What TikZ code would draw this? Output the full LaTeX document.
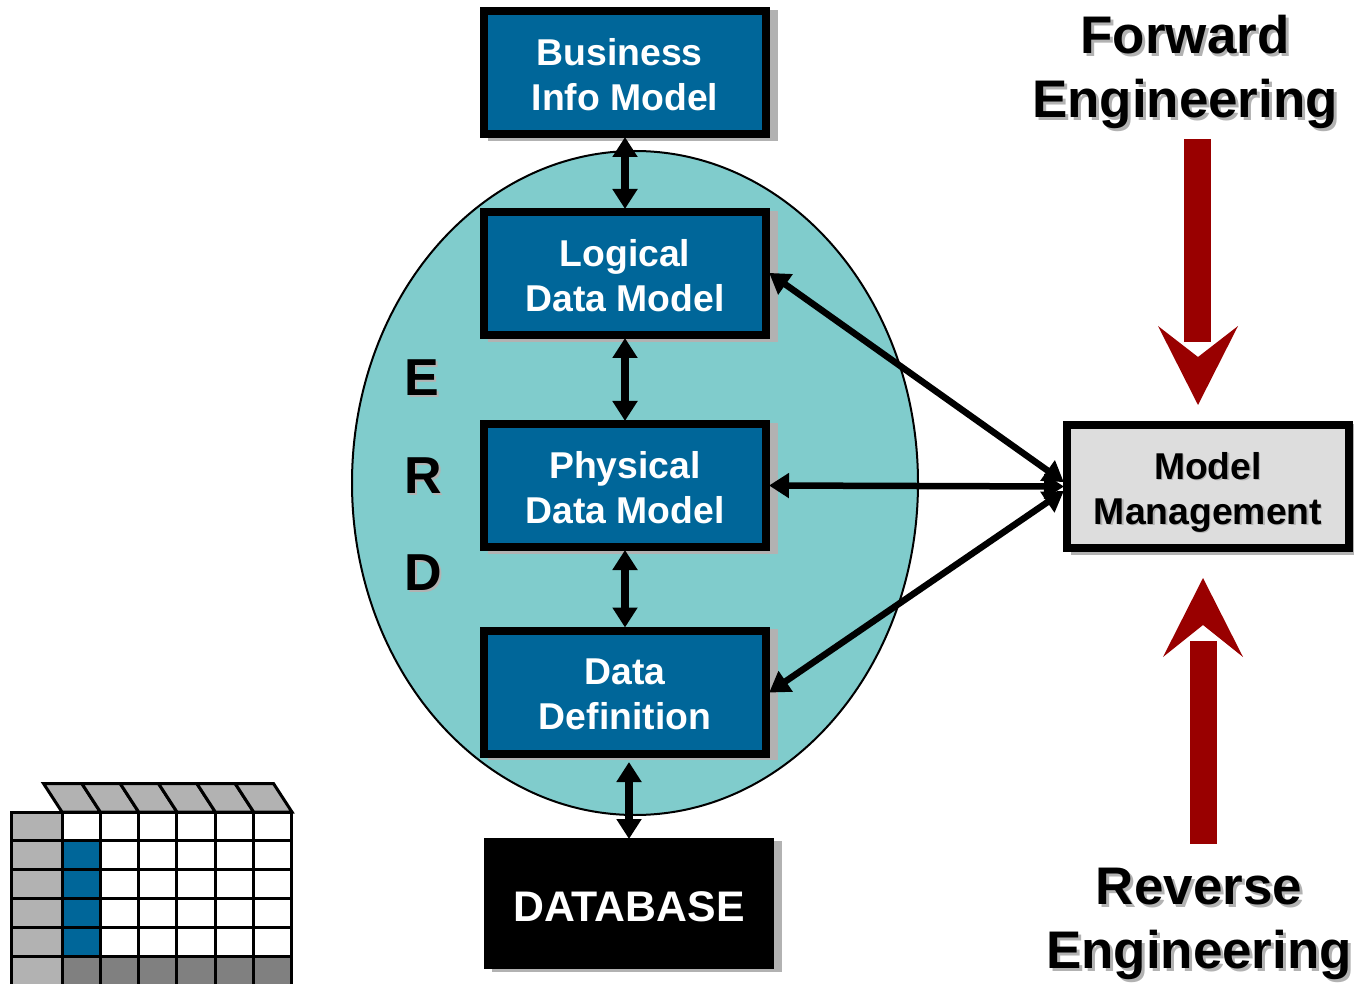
\documentclass[tikz,border=0pt]{standalone}
\usepackage{fontspec}
\setmainfont{Liberation Sans}
\usetikzlibrary{arrows.meta,shadows,calc,shapes.geometric}
\newcommand{\px}{0.75pt}
\newcommand{\cw}{38.33}
\newcommand{\shtxt}[2][2.2pt]{\leavevmode\rlap{\kern#1\raisebox{-#1}{\color{shadowgray}#2}}#2}
\definecolor{boxblue}{HTML}{006699}
\definecolor{erdteal}{HTML}{80CCCC}
\definecolor{darkred}{HTML}{990000}
\definecolor{shadowgray}{HTML}{B2B2B2}
\definecolor{mgmtgray}{HTML}{DDDDDD}
\definecolor{darkcell}{HTML}{808080}

\begin{document}
\begin{tikzpicture}[x=\px,y=-\px,
    modelbox/.style={draw=black, rectangle, line width=8*\px, minimum width=282*\px, minimum height=123*\px, inner sep=0pt, align=center, font=\fontsize{28}{33.75}\selectfont\bfseries, drop shadow={shadow xshift=8*\px, shadow yshift=-2.7*\px, draw=shadowgray, line width=8*\px, fill=shadowgray, opacity=1}},
    bluebox/.style={modelbox, fill=boxblue, text=white},
    bigtxt/.style={align=center, inner sep=0pt, font=\fontsize{39.7}{48}\selectfont\bfseries},
    erdtxt/.style={inner sep=0pt, font=\fontsize{39}{48}\selectfont\bfseries},
    biarrow/.style={line width=8*\px, shorten <=-1*\px, shorten >=-1*\px, {Triangle[length=20*\px, width=24*\px]}-{Triangle[length=20*\px, width=24*\px]}},
    diagarrow/.style={biarrow, line width=6.5*\px},
    cell/.style={draw=black, line width=3*\px}]
    \useasboundingbox (0,0) rectangle (1354,984);

    % ERD
    \node[draw=black, ellipse, line width=2*\px, fill=erdteal, minimum width=566*\px, minimum height=664*\px, inner sep=0pt] (erd) at (635,483) {};
    \node[erdtxt] (erd-e) at (422,379) {\shtxt[1.5pt]{E}};
    \node[erdtxt] (erd-r) at (423,477) {\shtxt[1.5pt]{R}};
    \node[erdtxt] (erd-d) at (423,574) {\shtxt[1.5pt]{D}};

    % Models
    \node[bluebox] (bim) at (625,72.5) {\rule{0pt}{23.5pt}Business\hspace*{8pt}\\Info Model};
    \node[bluebox] (ldm) at (625,273.5) {\rule{0pt}{23.5pt}Logical\\Data Model};
    \node[bluebox] (pdm) at (625,485.5) {\rule{0pt}{23.5pt}Physical\\Data Model};
    \node[bluebox] (ddf) at (625,692) {\rule{0pt}{23.5pt}Data\\Definition};
    \node[modelbox, fill=black, text=white, font=\fontsize{32.1}{36}\selectfont\bfseries] (db) at (629,903.5) {\rule{0pt}{27.5pt}DATABASE};
    \node[modelbox, fill=mgmtgray] (mm) at (1208,486.5) {\rule{0pt}{29.5pt}\shtxt[1pt]{Model}\\\shtxt[1pt]{Management}};

    \coordinate (dbtop) at (629,763);
    \draw[biarrow] (bim) -- (ldm);
    \draw[biarrow] (ldm) -- (pdm);
    \draw[biarrow] (pdm) -- (ddf);
    \draw[biarrow] (dbtop) -- (db);
    \draw[diagarrow] (ldm.east) -- ($(mm.west)+(0,-5)$);
    \draw[diagarrow] (pdm.east) -- (mm.west);
    \draw[diagarrow] (ddf.east) -- ($(mm.west)+(0,5)$);

    % Forward Engineering
    \node[bigtxt] (fwd) at (1185,73.5) {\shtxt{Forward}\\\shtxt{Engineering}};
    \fill[darkred] (1184,139) rectangle (1211,342);
    \fill[darkred] (1158,326) -- (1198,357) -- (1238,326) -- (1198,405) -- cycle;

    % Reverse Engineering
    \node[bigtxt] (rev) at (1199,925.5) {\shtxt{Reverse}\\\shtxt{Engineering}};
    \fill[darkred] (1190,641) rectangle (1217,844);
    \fill[darkred] (1163,657) -- (1203,625) -- (1243,657) -- (1203,578) -- cycle;

    % Table
    \foreach \i in {0,...,5} {
        \draw[cell, fill=shadowgray] ({43.5+\i*\cw},783.5) -- ({43.5+(\i+1)*\cw},783.5) -- ({62+(\i+1)*\cw},812) -- ({62+\i*\cw},812) -- cycle;
        \foreach \j in {0,...,4} {
            \draw[cell, fill=white] ({62+\i*\cw},{812+\j*28.8}) rectangle ({62+(\i+1)*\cw},{812+(\j+1)*28.8});
        }
        \draw[cell, fill=darkcell] ({62+\i*\cw},956) rectangle ({62+(\i+1)*\cw},985);
    }
    \foreach \j in {0,...,4} {
        \draw[cell, fill=shadowgray] (11,{812+\j*28.8}) rectangle (62,{812+(\j+1)*28.8});
    }
    \draw[cell, fill=shadowgray] (11,956) rectangle (62,985);
    \foreach \j in {1,...,4} {
        \draw[cell, fill=boxblue] (62,{812+\j*28.8}) rectangle (100.33,{812+(\j+1)*28.8});
    }
\end{tikzpicture}
\end{document}
